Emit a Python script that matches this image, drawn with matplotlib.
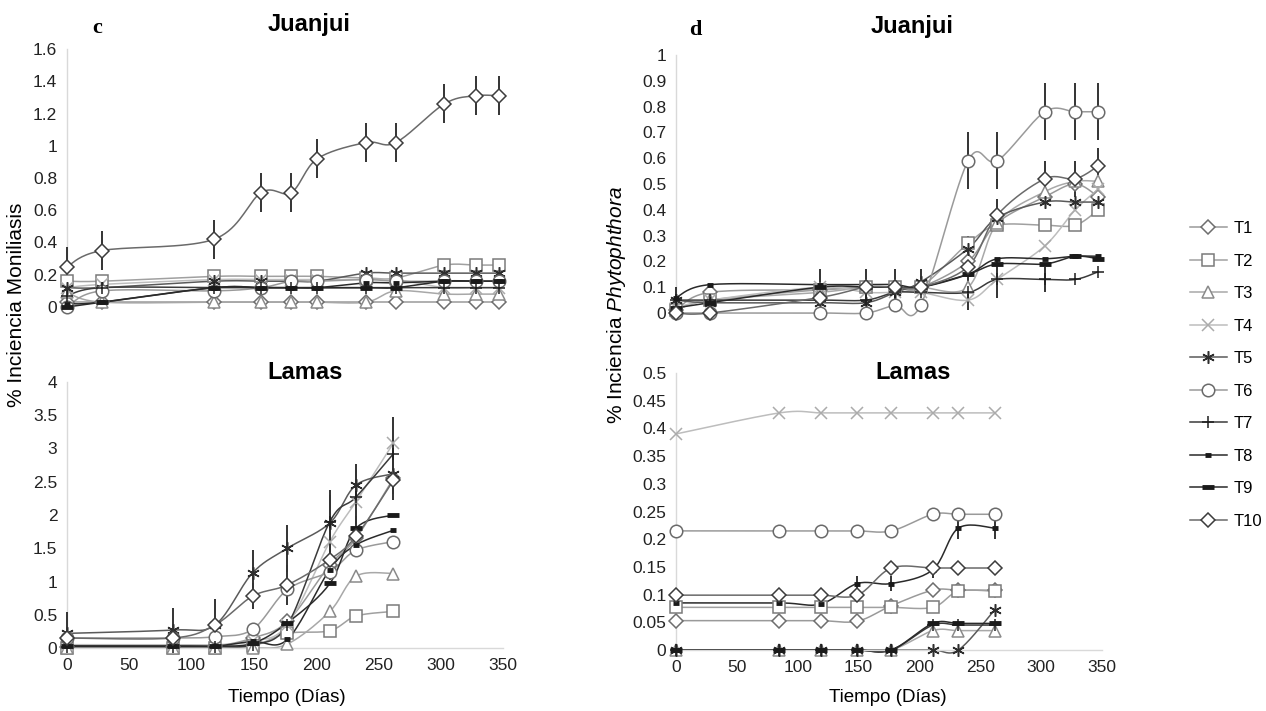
import numpy as np
import matplotlib
matplotlib.use("Agg")
import matplotlib.pyplot as plt
from matplotlib.lines import Line2D

plt.rcParams["font.family"] = ["Liberation Sans Narrow", "Liberation Sans", "DejaVu Sans"]
plt.rcParams["mathtext.fontset"] = "custom"
plt.rcParams["mathtext.rm"] = "Liberation Sans"
plt.rcParams["mathtext.it"] = "Liberation Sans:italic"

labels = ["T1", "T2", "T3", "T4", "T5", "T6", "T7", "T8", "T9", "T10"]
days_juanjui = [0, 28, 118, 156, 180, 201, 240, 264, 303, 328, 347]
days_lamas = [0, 85, 119, 149, 177, 211, 232, 262]

# Moniliasis - Juanjui
mon_juanjui = [
    [0.03, 0.03, 0.03, 0.03, 0.03, 0.03, 0.03, 0.03, 0.03, 0.03, 0.03],
    [0.16, 0.16, 0.19, 0.19, 0.19, 0.19, 0.18, 0.18, 0.26, 0.26, 0.26],
    [0.09, 0.03, 0.03, 0.03, 0.03, 0.03, 0.03, 0.10, 0.08, 0.08, 0.08],
    [0.12, 0.14, 0.17, 0.17, 0.17, 0.17, 0.17, 0.17, 0.12, 0.12, 0.12],
    [0.12, 0.12, 0.16, 0.16, 0.16, 0.16, 0.21, 0.21, 0.21, 0.21, 0.21],
    [0.00, 0.10, 0.10, 0.12, 0.16, 0.16, 0.17, 0.16, 0.16, 0.16, 0.16],
    [0.07, 0.12, 0.12, 0.12, 0.12, 0.12, 0.12, 0.12, 0.12, 0.12, 0.12],
    [0.02, 0.03, 0.12, 0.12, 0.12, 0.12, 0.15, 0.15, 0.16, 0.16, 0.16],
    [0.00, 0.03, 0.12, 0.12, 0.12, 0.12, 0.12, 0.12, 0.16, 0.16, 0.16],
    [0.25, 0.35, 0.42, 0.71, 0.71, 0.92, 1.02, 1.02, 1.26, 1.31, 1.31],
]
mon_juanjui_err = {9: [0.12, 0.12, 0.12, 0.12, 0.12, 0.12, 0.12, 0.12, 0.12, 0.12, 0.12]}

# Moniliasis - Lamas
mon_lamas = [
    [0.02, 0.02, 0.03, 0.15, 0.40, 1.25, 1.65, 2.55],
    [0.00, 0.00, 0.00, 0.03, 0.22, 0.26, 0.48, 0.55],
    [0.00, 0.00, 0.00, 0.00, 0.06, 0.55, 1.08, 1.12],
    [0.05, 0.05, 0.05, 0.10, 0.35, 1.60, 2.20, 3.08],
    [0.22, 0.27, 0.35, 1.13, 1.50, 1.88, 2.45, 2.62],
    [0.15, 0.15, 0.17, 0.28, 0.88, 1.15, 1.47, 1.60],
    [0.02, 0.02, 0.02, 0.05, 0.35, 1.90, 2.27, 2.92],
    [0.03, 0.03, 0.03, 0.10, 0.13, 1.18, 1.55, 1.77],
    [0.03, 0.03, 0.03, 0.07, 0.38, 0.97, 1.80, 2.00],
    [0.15, 0.15, 0.35, 0.78, 0.95, 1.33, 1.68, 2.52],
]
mon_lamas_err = {
    4: [0.32, 0.33, 0.38, 0.35, 0.35, 0.50, 0.32, 0.30],
    6: [0.00, 0.00, 0.00, 0.00, 0.10, 0.40, 0.40, 0.55],
    9: [0.00, 0.00, 0.00, 0.20, 0.30, 0.30, 0.30, 0.30],
}

# Phytophthora - Juanjui
phy_juanjui = [
    [0.01, 0.08, 0.09, 0.10, 0.10, 0.10, 0.20, 0.35, 0.45, 0.50, 0.45],
    [0.01, 0.05, 0.09, 0.10, 0.10, 0.10, 0.27, 0.34, 0.34, 0.34, 0.40],
    [0.01, 0.05, 0.08, 0.10, 0.10, 0.10, 0.10, 0.35, 0.47, 0.51, 0.51],
    [0.02, 0.05, 0.10, 0.08, 0.08, 0.08, 0.05, 0.13, 0.26, 0.40, 0.48],
    [0.05, 0.04, 0.04, 0.04, 0.08, 0.12, 0.25, 0.37, 0.43, 0.43, 0.43],
    [0.00, 0.00, 0.00, 0.00, 0.03, 0.03, 0.59, 0.59, 0.78, 0.78, 0.78],
    [0.05, 0.05, 0.05, 0.05, 0.08, 0.08, 0.08, 0.13, 0.13, 0.13, 0.16],
    [0.06, 0.11, 0.11, 0.11, 0.11, 0.10, 0.15, 0.21, 0.21, 0.22, 0.22],
    [0.02, 0.04, 0.10, 0.10, 0.10, 0.10, 0.15, 0.19, 0.19, 0.22, 0.21],
    [0.00, 0.00, 0.06, 0.10, 0.10, 0.10, 0.18, 0.38, 0.52, 0.52, 0.57],
]
phy_juanjui_err = {
    4: [0.05, 0.00, 0.00, 0.00, 0.00, 0.05, 0.05, 0.00, 0.00, 0.00, 0.00],
    5: [0.00, 0.00, 0.00, 0.00, 0.00, 0.00, 0.11, 0.11, 0.11, 0.11, 0.11],
    6: [0.00, 0.00, 0.00, 0.00, 0.00, 0.00, 0.07, 0.07, 0.05, 0.00, 0.00],
    7: [0.00, 0.00, 0.06, 0.00, 0.00, 0.00, 0.00, 0.00, 0.00, 0.00, 0.00],
    9: [0.00, 0.00, 0.00, 0.07, 0.07, 0.00, 0.00, 0.06, 0.07, 0.07, 0.07],
}

# Phytophthora - Lamas
phy_lamas = [
    [0.053, 0.053, 0.053, 0.052, 0.080, 0.108, 0.108, 0.108],
    [0.077, 0.077, 0.077, 0.077, 0.077, 0.077, 0.106, 0.106],
    [0.000, 0.000, 0.000, 0.000, 0.000, 0.035, 0.035, 0.035],
    [0.390, 0.428, 0.428, 0.428, 0.428, 0.428, 0.428, 0.428],
    [0.000, 0.000, 0.000, 0.000, 0.000, 0.000, 0.000, 0.073],
    [0.215, 0.215, 0.215, 0.215, 0.215, 0.245, 0.245, 0.245],
    [0.000, 0.000, 0.000, 0.000, 0.000, 0.045, 0.045, 0.045],
    [0.085, 0.085, 0.083, 0.120, 0.120, 0.145, 0.220, 0.220],
    [0.000, 0.000, 0.000, 0.000, 0.000, 0.048, 0.048, 0.048],
    [0.099, 0.099, 0.099, 0.099, 0.148, 0.148, 0.148, 0.148],
]
phy_lamas_err = {7: [0.0, 0.0, 0.0, 0.013, 0.013, 0.015, 0.02, 0.02]}

# marker, size, marker edge colour, line colour
styles = [
    ("D", 7, "#6e6e6e", "#9a9a9a"),
    ("s", 8, "#7a7a7a", "#a0a0a0"),
    ("^", 8, "#8a8a8a", "#a8a8a8"),
    ("x", 8, "#ababab", "#bdbdbd"),
    ((6, 2, 0), 9, "#2e2e2e", "#5a5a5a"),
    ("o", 9, "#6a6a6a", "#9a9a9a"),
    ("+", 9, "#1e1e1e", "#3a3a3a"),
    ("_", 5, "#1a1a1a", "#2a2a2a"),
    ("_", 9, "#1a1a1a", "#2a2a2a"),
    ("D", 7, "#3c3c3c", "#6a6a6a"),
]


def smooth(x, y, n=20):
    # bezier smoothing between points, like a spreadsheet "smoothed line"
    p = np.column_stack([x, y]).astype(float)
    p = np.vstack([p[0], p, p[-1]])
    out = []
    t = np.linspace(0, 1, n)[:, None]
    for i in range(1, len(p) - 2):
        p0, p1, p2, p3 = p[i - 1], p[i], p[i + 1], p[i + 2]
        c1 = p1 + (p2 - p0) / 6
        c2 = p2 - (p3 - p1) / 6
        seg = ((1 - t) ** 3) * p1 + 3 * ((1 - t) ** 2) * t * c1 + 3 * (1 - t) * t ** 2 * c2 + t ** 3 * p2
        out.append(seg)
    s = np.vstack(out)
    return s[:, 0], s[:, 1]


def draw(ax, days, series, errs, ymax, ystep, xlabels):
    for i, ys in enumerate(series):
        m, ms, mc, lc = styles[i]
        sx, sy = smooth(days, ys)
        ax.plot(sx, sy, color=lc, lw=1.1, clip_on=False, zorder=2)
        if i in errs:
            ax.errorbar(days, ys, yerr=errs[i], fmt="none", ecolor="#333333",
                        elinewidth=1.4, capsize=0, clip_on=False, zorder=3)
        mew = 3.5 if m == "_" else 1.1
        ax.plot(days, ys, ls="none", marker=m, ms=ms, mec=mc, mfc="white",
                mew=mew, clip_on=False, zorder=4)
    ax.set_xlim(0, 350)
    ax.set_ylim(0, ymax)
    ax.set_yticks(np.arange(0, ymax + ystep / 2, ystep))
    ax.yaxis.set_major_formatter(plt.FuncFormatter(lambda v, p: f"{v:g}"))
    ax.set_xticks(np.arange(0, 351, 50))
    for s in ["top", "right"]:
        ax.spines[s].set_visible(False)
    for s in ["left", "bottom"]:
        ax.spines[s].set_color("#d9d9d9")
        ax.spines[s].set_linewidth(1)
    ax.tick_params(length=0, labelsize=12.5, colors="#222222", pad=7)
    if not xlabels:
        ax.tick_params(labelbottom=False)
        ax.spines["bottom"].set_visible(False)


fig = plt.figure(figsize=(12.66, 7.11), dpi=100)
W, H = 1266, 711


def add_ax(x0, x1, ybot, ytop):
    return fig.add_axes([x0 / W, 1 - ybot / H, (x1 - x0) / W, (ybot - ytop) / H])


def px_text(x, y, s, **kw):
    fig.text(x / W, 1 - y / H, s, ha="center", va="center", **kw)


ax1 = add_ax(67, 503, 307, 49)
ax2 = add_ax(67, 503, 648, 382)
ax3 = add_ax(676, 1102, 313, 55)
ax4 = add_ax(676, 1102, 650, 373)

draw(ax1, days_juanjui, mon_juanjui, mon_juanjui_err, 1.6, 0.2, False)
draw(ax2, days_lamas, mon_lamas, mon_lamas_err, 4, 0.5, True)
draw(ax3, days_juanjui, phy_juanjui, phy_juanjui_err, 1.0, 0.1, False)
draw(ax4, days_lamas, phy_lamas, phy_lamas_err, 0.5, 0.05, True)

title_kw = dict(fontsize=17, fontweight="bold", family="Liberation Sans")
px_text(309, 25, "Juanjui", **title_kw)
px_text(305, 372, "Lamas", **title_kw)
px_text(912, 27, "Juanjui", **title_kw)
px_text(913, 372, "Lamas", **title_kw)

px_text(287, 697, "Tiempo (Días)", fontsize=13.5, family="Liberation Sans")
px_text(888, 697, "Tiempo (Días)", fontsize=13.5, family="Liberation Sans")

px_text(97, 28, "c", family="Liberation Serif", fontweight="bold", fontsize=16)
px_text(695, 30, "d", family="Liberation Serif", fontweight="bold", fontsize=16)
px_text(17, 305, "% Inciencia Moniliasis", rotation=90, fontsize=15,
        family="Liberation Sans")
px_text(617, 305, "% Inciencia $\\it{Phytophthora}$", rotation=90, fontsize=15,
        family="Liberation Sans")

handles = []
for i, lab in enumerate(labels):
    m, ms, mc, lc = styles[i]
    mew = 3.5 if m == "_" else 1.1
    handles.append(Line2D([], [], color=lc, lw=1.1, marker=m, ms=ms, mec=mc,
                          mfc="white", mew=mew, label=lab))
fig.legend(handles=handles, loc="center left", bbox_to_anchor=(1190 / W, 1 - 375 / H),
           frameon=False, fontsize=12, labelspacing=1.05, handlelength=2.2,
           handletextpad=0.4, borderaxespad=0, borderpad=0)

fig.savefig("out.png", dpi=100)
